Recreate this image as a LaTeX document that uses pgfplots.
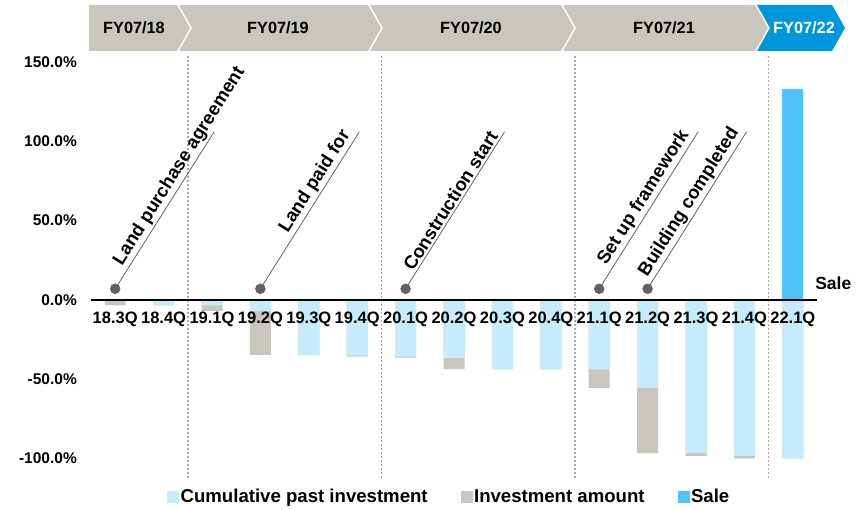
\documentclass[border=0pt]{standalone}
\usepackage{fontspec}
\setmainfont{Liberation Sans}
\usepackage{pgfplots}
\usepackage{pgfplotstable}
\pgfplotsset{compat=1.18}
\definecolor{cumblue}{HTML}{C6EBFD}
\definecolor{invgrey}{HTML}{C8C6BE}
\definecolor{saleblue}{HTML}{4FC3FA}
\definecolor{hdrgrey}{HTML}{C8C6BD}
\definecolor{hdrblue}{HTML}{0096DC}
\definecolor{dotgrey}{HTML}{A8A8A8}
\definecolor{markgrey}{HTML}{626262}

\pgfplotstableread{
idx cum inv
0 0 -3.4
1 -3.4 0
2 -3.4 -3.5
3 -6.9 -27.8
4 -34.9 0
5 -35.2 -0.6
6 -35.8 -0.6
7 -36.6 -7.1
8 -43.9 0
9 -43.9 0
10 -43.9 -11.6
11 -55.5 -41.2
12 -96.7 -1.7
13 -98.4 -1.6
14 -100.0 0
}\invdata
\pgfplotstableread{
idx sale
14 132.8
}\saledata

\begin{document}
\begin{tikzpicture}
\begin{axis}[
  at={(0pt,0pt)}, anchor=south west,
  scale only axis, width=726pt, height=425pt,
  xmin=-0.5, xmax=14.5, ymin=-118, ymax=150,
  axis on top,
  axis x line*=middle, axis y line*=left,
  y axis line style={draw=none},
  x axis line style={black, line width=1.5pt, -},
  hide obscured x ticks=false, hide obscured y ticks=false,
  major tick length=0pt,
  xtick={0,...,14},
  xticklabels={18.3Q,18.4Q,19.1Q,19.2Q,19.3Q,19.4Q,20.1Q,20.2Q,20.3Q,20.4Q,21.1Q,21.2Q,21.3Q,21.4Q,22.1Q},
  ytick={-100,-50,0,50,100,150},
  yticklabels={-100.0\%,-50.0\%,0.0\%,50.0\%,100.0\%,150.0\%},
  xticklabel style={font=\fontsize{16.5}{19}\selectfont\bfseries, inner sep=0pt, anchor=north, yshift=-12pt},
  yticklabel style={font=\fontsize{15.5}{18}\selectfont\bfseries, inner sep=0pt, anchor=east, xshift=-14pt},
  clip=false,
  legend columns=3,
  legend style={at={(0.4935,-0.0235)}, anchor=center, draw=none, fill=none,
    font=\fontsize{18.6}{21}\selectfont\bfseries,
    /tikz/every even column/.append style={column sep=31pt},
    nodes={inner sep=2pt}},
  legend image code/.code={\fill[#1] (0pt,-5.5pt) rectangle (11pt,5.5pt);},
]
\addlegendimage{cumblue}
\addlegendentry{Cumulative past investment}
\addlegendimage{invgrey}
\addlegendentry{Investment amount}
\addlegendimage{saleblue}
\addlegendentry{Sale}

% dotted year separators
\addplot[forget plot, dotgrey, line width=1.5pt, dash pattern=on 1.5pt off 2.5pt] coordinates {(1.5,153.5) (1.5,-113.5)};
\addplot[forget plot, dotgrey, line width=1.5pt, dash pattern=on 1.5pt off 2.5pt] coordinates {(5.5,153.5) (5.5,-113.5)};
\addplot[forget plot, dotgrey, line width=1.5pt, dash pattern=on 1.5pt off 2.5pt] coordinates {(9.5,153.5) (9.5,-113.5)};
\addplot[forget plot, dotgrey, line width=1.5pt, dash pattern=on 1.5pt off 2.5pt] coordinates {(13.5,153.5) (13.5,-113.5)};

% bars: total (grey) then cumulative (light blue) over it
\addplot[forget plot, ybar, bar width=21pt, bar shift=0pt, fill=invgrey, draw=none]
  table[x=idx, y expr=\thisrow{cum}+\thisrow{inv}] {\invdata};
\addplot[forget plot, ybar, bar width=21pt, bar shift=0pt, fill=cumblue, draw=none]
  table[x=idx, y=cum] {\invdata};
\addplot[forget plot, ybar, bar width=21pt, bar shift=0pt, fill=saleblue, draw=none]
  table[x=idx, y=sale] {\saledata};

% milestone annotations
\addplot[forget plot, markgrey, line width=0.8pt] coordinates {(0,7) (2.045,106)}
  node[pos=0.11, sloped, anchor=south west, inner sep=2pt, text=black, font=\fontsize{18.5}{21}\selectfont\bfseries] {Land purchase agreement};
\addplot[forget plot, markgrey, line width=0.8pt] coordinates {(3,7) (5.045,106)}
  node[pos=0.975, sloped, anchor=south east, inner sep=2pt, text=black, font=\fontsize{18.5}{21}\selectfont\bfseries] {Land paid for};
\addplot[forget plot, markgrey, line width=0.8pt] coordinates {(6,7) (8.045,106)}
  node[pos=0.975, sloped, anchor=south east, inner sep=2pt, text=black, font=\fontsize{18.5}{21}\selectfont\bfseries] {Construction start};
\addplot[forget plot, markgrey, line width=0.8pt] coordinates {(10,7) (12.045,106)}
  node[pos=0.975, sloped, anchor=south east, inner sep=2pt, text=black, font=\fontsize{18.5}{21}\selectfont\bfseries] {Set up framework};
\addplot[forget plot, markgrey, line width=0.8pt] coordinates {(11,7) (13.045,106)}
  node[pos=0.99, sloped, anchor=south east, inner sep=2pt, text=black, font=\fontsize{18.5}{21}\selectfont\bfseries] {Building completed};
\addplot[forget plot, only marks, mark=*, mark size=5pt, markgrey, mark options={draw=markgrey, fill=markgrey}]
  coordinates {(0,7) (3,7) (6,7) (10,7) (11,7)};

\node[anchor=west, inner sep=0pt, font=\fontsize{17.5}{20}\selectfont\bfseries] at (axis cs:14.46,10.7) {Sale};
\end{axis}

\begin{scope}[x=1pt, y=-1pt, shift={(-91pt,487pt)}]
\path[use as bounding box] (0,0) rectangle (864,509);
\fill[hdrgrey] (89,5) -- (177,5) -- (190,28) -- (177,51) -- (89,51) -- cycle;
\fill[hdrgrey] (179,5) -- (368,5) -- (381,28) -- (368,51) -- (179,51) -- (192,28) -- cycle;
\fill[hdrgrey] (370,5) -- (561,5) -- (574,28) -- (561,51) -- (370,51) -- (383,28) -- cycle;
\fill[hdrgrey] (563,5) -- (755,5) -- (768,28) -- (755,51) -- (563,51) -- (576,28) -- cycle;
\fill[hdrblue] (757,5) -- (832,5) -- (845,28) -- (832,51) -- (757,51) -- (770,28) -- cycle;
\begin{scope}[every node/.style={inner sep=0pt, font=\fontsize{16.3}{18}\selectfont\bfseries}]
\node at (134,28) {FY07/18};
\node at (278,28) {FY07/19};
\node at (471,28) {FY07/20};
\node at (664,28) {FY07/21};
\node[text=white] at (804,28) {FY07/22};
\end{scope}
\end{scope}
\end{tikzpicture}
\end{document}
